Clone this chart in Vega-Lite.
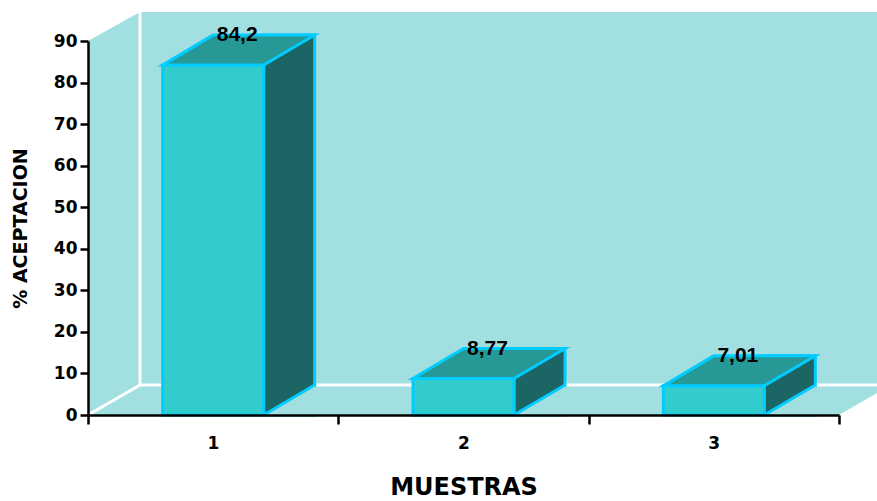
{
  "$schema": "https://vega.github.io/schema/vega-lite/v6.json",
  "width": 751,
  "height": 374,
  "autosize": {"type": "none"},
  "padding": {"left": 88, "right": 38, "top": 41, "bottom": 86},
  "background": "white",
  "usermeta": {"embedOptions": {"actions": false}},
  "config": {
    "view": {"stroke": null},
    "locale": {"number": {"decimal": ",", "thousands": ".", "grouping": [3], "currency": ["", ""]}}
  },
  "data": {
    "values": [
      {"muestra": 1, "valor": 84.2},
      {"muestra": 2, "valor": 8.77},
      {"muestra": 3, "valor": 7.01}
    ]
  },
  "layer": [
    {
      "data": {"values": [{}]},
      "mark": {"type": "rect", "fill": "#A2DFE0", "yOffset": -29, "x2Offset": 60},
      "encoding": {
        "x": {"datum": 0.5, "type": "quantitative"},
        "x2": {"datum": 3.5},
        "y": {"datum": 90, "type": "quantitative"},
        "y2": {"datum": 0}
      }
    },
    {
      "data": {"values": [{}]},
      "mark": {"type": "point", "shape": "M0,0 L52,-29 L52,-31 L-2,-31 L-2,0 Z", "size": 4, "filled": true, "fill": "white", "strokeWidth": 0, "opacity": 1},
      "encoding": {
        "x": {"datum": 0.5, "type": "quantitative"},
        "y": {"datum": 90, "type": "quantitative"}
      }
    },
    {
      "data": {"values": [{}]},
      "mark": {"type": "point", "shape": "M0,0 L65,-37.5 L65,2 L0,2 Z", "size": 4, "filled": true, "fill": "white", "strokeWidth": 0, "opacity": 1},
      "encoding": {
        "x": {"datum": 3.5, "type": "quantitative"},
        "y": {"datum": 0, "type": "quantitative"}
      }
    },
    {
      "data": {"values": [{}]},
      "mark": {"type": "point", "shape": "M0,0 L52,-30", "size": 4, "filled": false, "stroke": "white", "strokeWidth": 3, "opacity": 1},
      "encoding": {
        "x": {"datum": 0.5, "type": "quantitative"},
        "y": {"datum": 0, "type": "quantitative"}
      }
    },
    {
      "data": {"values": [{}]},
      "mark": {"type": "rule", "color": "white", "strokeWidth": 3, "xOffset": 52, "yOffset": -30, "y2Offset": -31},
      "encoding": {
        "x": {"datum": 0.5, "type": "quantitative"},
        "y": {"datum": 0, "type": "quantitative"},
        "y2": {"datum": 90}
      }
    },
    {
      "data": {"values": [{}]},
      "mark": {"type": "rule", "color": "white", "strokeWidth": 3, "xOffset": 52, "x2Offset": 60, "yOffset": -30},
      "encoding": {
        "x": {"datum": 0.5, "type": "quantitative"},
        "x2": {"datum": 3.5},
        "y": {"datum": 0, "type": "quantitative"}
      }
    },
    {
      "mark": {"type": "bar", "orient": "vertical", "width": 51, "xOffset": 76, "yOffset": -30, "fill": "#1B6565", "stroke": "#00CCFF", "strokeWidth": 3},
      "encoding": {
        "x": {"field": "muestra", "type": "quantitative"},
        "y": {"field": "valor", "type": "quantitative"},
        "y2": {"datum": 0}
      }
    },
    {
      "mark": {"type": "point", "shape": "M50.5,0 L101.5,-30 L101.5,-28.5 L104,-28.5 L104,1 L50.5,1 Z", "size": 4, "filled": true, "fill": "#A2DFE0", "strokeWidth": 0, "opacity": 1},
      "encoding": {
        "x": {"field": "muestra", "type": "quantitative"},
        "y": {"datum": 0, "type": "quantitative"}
      }
    },
    {
      "mark": {"type": "point", "shape": "M50.5,0 L101.5,-30", "size": 4, "filled": false, "stroke": "#00CCFF", "strokeWidth": 3, "opacity": 1},
      "encoding": {
        "x": {"field": "muestra", "type": "quantitative"},
        "y": {"datum": 0, "type": "quantitative"}
      }
    },
    {
      "mark": {"type": "bar", "orient": "vertical", "width": 101, "fill": "#33CCCC", "stroke": "#00CCFF", "strokeWidth": 3},
      "encoding": {
        "x": {
          "field": "muestra",
          "type": "quantitative",
          "scale": {"domain": [0.5, 3.5], "nice": false, "zero": false, "padding": 0},
          "axis": {
            "title": "MUESTRAS",
            "values": [0.5, 1.5, 2.5, 3.5],
            "labelExpr": "datum.value < 3 ? format(datum.value + 0.5, 'd') : ''",
            "labelOffset": 125,
            "labelFlush": false,
            "labelOverlap": false,
            "labelBound": false,
            "tickSize": 9,
            "tickWidth": 2.5,
            "tickColor": "black",
            "domainColor": "black",
            "domainWidth": 2.5,
            "labelFont": "DejaVu Sans",
            "labelFontWeight": "bold",
            "labelFontSize": 17,
            "labelColor": "black",
            "labelPadding": 11,
            "titleFont": "DejaVu Sans",
            "titleFontWeight": "bold",
            "titleFontSize": 24,
            "titleColor": "black",
            "titlePadding": 24,
            "grid": false,
            "zindex": 1
          }
        },
        "y": {
          "field": "valor",
          "type": "quantitative",
          "scale": {"domain": [0, 90], "nice": false},
          "axis": {
            "title": "% ACEPTACION",
            "values": [0, 10, 20, 30, 40, 50, 60, 70, 80, 90],
            "tickSize": 8,
            "tickWidth": 2.5,
            "tickColor": "black",
            "domainColor": "black",
            "domainWidth": 2.5,
            "labelFont": "DejaVu Sans",
            "labelFontWeight": "bold",
            "labelFontSize": 17,
            "labelColor": "black",
            "labelPadding": 3,
            "titleFont": "DejaVu Sans",
            "titleFontWeight": "bold",
            "titleFontSize": 19,
            "titleColor": "black",
            "titlePadding": 23,
            "grid": false,
            "zindex": 1
          }
        },
        "y2": {"datum": 0}
      }
    },
    {
      "mark": {"type": "point", "shape": "M-50.5,0 L50.5,0 L101.5,-30 L0,-30 Z", "size": 4, "filled": true, "fill": "#269996", "stroke": "#00CCFF", "strokeWidth": 3, "opacity": 1},
      "encoding": {
        "x": {"field": "muestra", "type": "quantitative"},
        "y": {"field": "valor", "type": "quantitative"}
      }
    },
    {
      "mark": {"type": "text", "dx": 24, "dy": -24, "baseline": "alphabetic", "align": "center", "font": "Liberation Sans", "fontWeight": "bold", "fontSize": 21, "color": "black"},
      "encoding": {
        "x": {"field": "muestra", "type": "quantitative"},
        "y": {"field": "valor", "type": "quantitative"},
        "text": {"field": "valor", "type": "quantitative", "format": "~g"}
      }
    }
  ]
}
